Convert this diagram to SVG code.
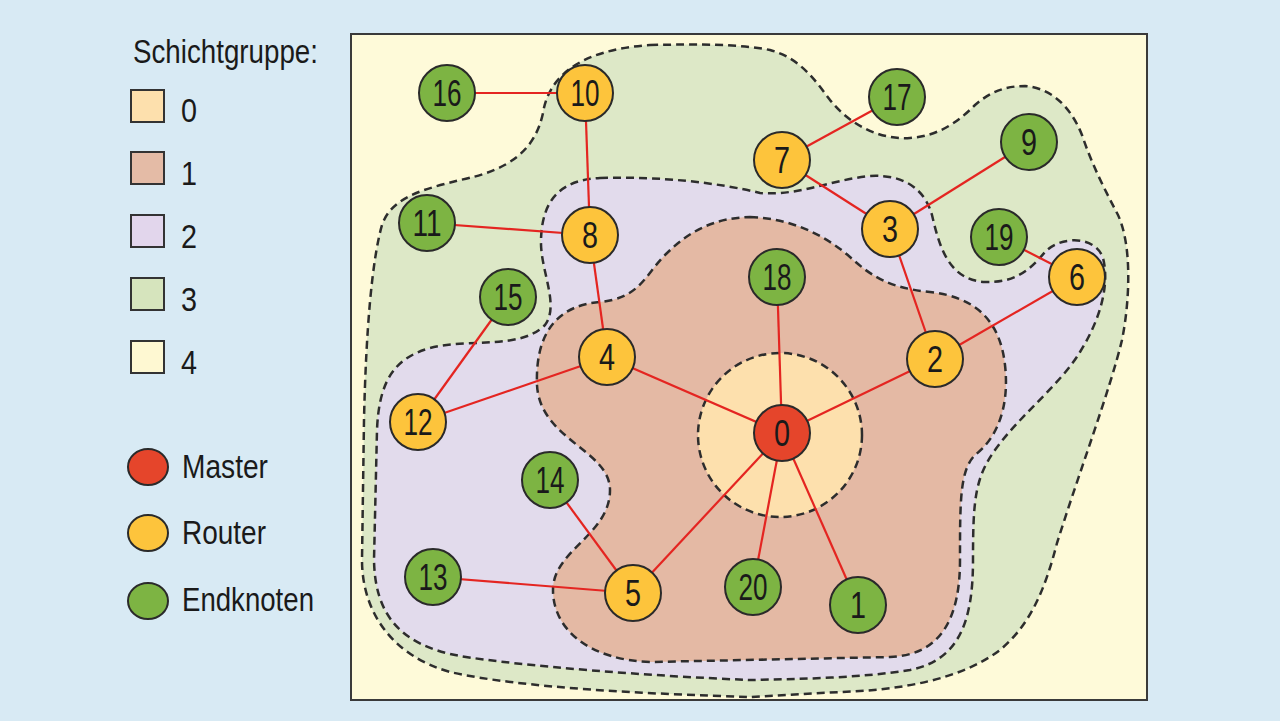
<svg xmlns="http://www.w3.org/2000/svg" width="1280" height="721" viewBox="0 0 1280 721">
<style>
.zone{stroke:#2d2d2d;stroke-width:2.5;stroke-dasharray:8 5;}
.edge{stroke:#e42521;stroke-width:2.2;fill:none;}
.n{stroke:#2a2a2a;stroke-width:2;}
.end{fill:#7db443;}
.rt{fill:#fdc43c;}
.ms{fill:#e5452b;}
.num{font-family:"Liberation Sans",Arial,sans-serif;font-size:36px;fill:#1a1a1a;text-anchor:middle;}
.lg{font-family:"Liberation Sans",Arial,sans-serif;font-size:34px;fill:#1a1a1a;}
.sq{stroke:#333;stroke-width:2;}
</style>
<rect x="0" y="0" width="1280" height="721" fill="#d8eaf4"/>
<g id="legend">
<text class="lg" x="133" y="63" textLength="185" lengthAdjust="spacingAndGlyphs">Schichtgruppe:</text>
<rect class="sq" x="131" y="90" width="33" height="32" fill="#fde0ad"/>
<text class="lg" x="181" y="122" textLength="16" lengthAdjust="spacingAndGlyphs">0</text>
<rect class="sq" x="131" y="152" width="33" height="32" fill="#e4bba6"/>
<text class="lg" x="181" y="185" textLength="16" lengthAdjust="spacingAndGlyphs">1</text>
<rect class="sq" x="131" y="215" width="33" height="32" fill="#e2d6ec"/>
<text class="lg" x="181" y="248" textLength="16" lengthAdjust="spacingAndGlyphs">2</text>
<rect class="sq" x="131" y="278" width="33" height="32" fill="#d6e4bd"/>
<text class="lg" x="181" y="311" textLength="16" lengthAdjust="spacingAndGlyphs">3</text>
<rect class="sq" x="131" y="341" width="33" height="32" fill="#fef8d2"/>
<text class="lg" x="181" y="374" textLength="16" lengthAdjust="spacingAndGlyphs">4</text>
<ellipse class="n ms" cx="148" cy="467" rx="20" ry="18"/>
<text class="lg" x="182" y="478" textLength="86" lengthAdjust="spacingAndGlyphs">Master</text>
<ellipse class="n rt" cx="148" cy="533" rx="20" ry="18"/>
<text class="lg" x="182" y="544" textLength="84" lengthAdjust="spacingAndGlyphs">Router</text>
<ellipse class="n end" cx="148" cy="601" rx="20" ry="18"/>
<text class="lg" x="182" y="611" textLength="132" lengthAdjust="spacingAndGlyphs">Endknoten</text>
</g>
<g id="zones">
<rect x="351" y="34" width="796" height="666" fill="#fefad9" stroke="#3a3a3a" stroke-width="2"/>
<path id="zone3" class="zone" fill="#dde8c7" d="M 650,45 C 700,44 740,44 770,50 C 800,58 815,80 830,100 C 850,125 880,140 910,138 C 940,136 960,120 975,105 C 990,92 1005,86 1025,86 C 1050,88 1070,105 1082,135 C 1092,165 1105,190 1118,215 C 1132,245 1130,300 1122,340 C 1110,390 1080,470 1057,543 C 1045,590 1030,625 1000,650 C 960,680 900,690 840,692 L 750,697 C 650,694 520,688 450,672 C 390,655 362,610 362,560 L 364,420 C 366,330 372,260 382,225 C 392,195 430,188 460,180 C 510,170 535,150 543,113 C 548,80 575,50 650,45 Z"/>
<path id="zone2" class="zone" fill="#e2dbec" d="M 600,178 C 660,176 720,183 760,193 C 800,196 830,180 870,176 C 905,174 925,190 932,215 C 940,250 950,280 985,282 C 1015,283 1030,270 1045,252 C 1060,236 1095,235 1103,258 C 1110,285 1100,320 1080,352 C 1060,385 1020,415 995,450 C 975,478 973,500 973,560 C 973,620 960,660 910,670 C 860,678 800,679 750,680 C 650,676 520,666 460,656 C 400,645 375,615 374,560 L 377,430 C 379,380 395,358 430,348 C 470,338 520,350 545,325 C 560,305 540,270 541,240 C 542,200 560,180 600,178 Z"/>
<path id="zone1" class="zone" fill="#e4b9a4" d="M 750,217 C 790,218 825,235 850,257 C 872,277 890,288 930,292 C 975,297 1000,320 1005,365 C 1010,410 995,440 975,455 C 960,470 960,500 960,560 C 960,620 940,655 890,657 L 650,662 C 590,660 553,630 553,590 C 553,550 610,535 610,490 C 610,450 540,440 537,385 C 535,330 560,305 600,302 C 640,298 645,275 665,255 C 690,230 715,218 750,217 Z"/>
<circle id="zone0" class="zone" fill="#fde0ad" cx="780" cy="435" r="82"/>
</g>
<g id="connectors">
<line class="edge" x1="447" y1="93" x2="585" y2="93"/>
<line class="edge" x1="585" y1="93" x2="590" y2="235"/>
<line class="edge" x1="427" y1="223" x2="590" y2="235"/>
<line class="edge" x1="590" y1="235" x2="607" y2="357"/>
<line class="edge" x1="508" y1="297" x2="418" y2="422"/>
<line class="edge" x1="418" y1="422" x2="607" y2="357"/>
<line class="edge" x1="607" y1="357" x2="782" y2="433"/>
<line class="edge" x1="777" y1="277" x2="782" y2="433"/>
<line class="edge" x1="935" y1="359" x2="782" y2="433"/>
<line class="edge" x1="890" y1="229" x2="935" y2="359"/>
<line class="edge" x1="782" y1="160" x2="890" y2="229"/>
<line class="edge" x1="782" y1="160" x2="897" y2="97"/>
<line class="edge" x1="890" y1="229" x2="1029" y2="142"/>
<line class="edge" x1="999" y1="237" x2="1077" y2="277"/>
<line class="edge" x1="1077" y1="277" x2="935" y2="359"/>
<line class="edge" x1="550" y1="480" x2="633" y2="593"/>
<line class="edge" x1="433" y1="577" x2="633" y2="593"/>
<line class="edge" x1="633" y1="593" x2="782" y2="433"/>
<line class="edge" x1="753" y1="587" x2="782" y2="433"/>
<line class="edge" x1="858" y1="605" x2="782" y2="433"/>
</g>
<g id="node0"><circle class="n ms" cx="782" cy="433" r="28"/><text class="num" x="782" y="446" textLength="16" lengthAdjust="spacingAndGlyphs">0</text></g>
<g id="node1"><circle class="n end" cx="858" cy="605" r="28"/><text class="num" x="858" y="618" textLength="16" lengthAdjust="spacingAndGlyphs">1</text></g>
<g id="node2"><circle class="n rt" cx="935" cy="359" r="28"/><text class="num" x="935" y="372" textLength="16" lengthAdjust="spacingAndGlyphs">2</text></g>
<g id="node3"><circle class="n rt" cx="890" cy="229" r="28"/><text class="num" x="890" y="242" textLength="16" lengthAdjust="spacingAndGlyphs">3</text></g>
<g id="node4"><circle class="n rt" cx="607" cy="357" r="28"/><text class="num" x="607" y="370" textLength="16" lengthAdjust="spacingAndGlyphs">4</text></g>
<g id="node5"><circle class="n rt" cx="633" cy="593" r="28"/><text class="num" x="633" y="606" textLength="16" lengthAdjust="spacingAndGlyphs">5</text></g>
<g id="node6"><circle class="n rt" cx="1077" cy="277" r="28"/><text class="num" x="1077" y="290" textLength="16" lengthAdjust="spacingAndGlyphs">6</text></g>
<g id="node7"><circle class="n rt" cx="782" cy="160" r="28"/><text class="num" x="782" y="173" textLength="16" lengthAdjust="spacingAndGlyphs">7</text></g>
<g id="node8"><circle class="n rt" cx="590" cy="235" r="28"/><text class="num" x="590" y="248" textLength="16" lengthAdjust="spacingAndGlyphs">8</text></g>
<g id="node9"><circle class="n end" cx="1029" cy="142" r="28"/><text class="num" x="1029" y="155" textLength="16" lengthAdjust="spacingAndGlyphs">9</text></g>
<g id="node10"><circle class="n rt" cx="585" cy="93" r="28"/><text class="num" x="585" y="106" textLength="29" lengthAdjust="spacingAndGlyphs">10</text></g>
<g id="node11"><circle class="n end" cx="427" cy="223" r="28"/><text class="num" x="427" y="236" textLength="29" lengthAdjust="spacingAndGlyphs">11</text></g>
<g id="node12"><circle class="n rt" cx="418" cy="422" r="28"/><text class="num" x="418" y="435" textLength="29" lengthAdjust="spacingAndGlyphs">12</text></g>
<g id="node13"><circle class="n end" cx="433" cy="577" r="28"/><text class="num" x="433" y="590" textLength="29" lengthAdjust="spacingAndGlyphs">13</text></g>
<g id="node14"><circle class="n end" cx="550" cy="480" r="28"/><text class="num" x="550" y="493" textLength="29" lengthAdjust="spacingAndGlyphs">14</text></g>
<g id="node15"><circle class="n end" cx="508" cy="297" r="28"/><text class="num" x="508" y="310" textLength="29" lengthAdjust="spacingAndGlyphs">15</text></g>
<g id="node16"><circle class="n end" cx="447" cy="93" r="28"/><text class="num" x="447" y="106" textLength="29" lengthAdjust="spacingAndGlyphs">16</text></g>
<g id="node17"><circle class="n end" cx="897" cy="97" r="28"/><text class="num" x="897" y="110" textLength="29" lengthAdjust="spacingAndGlyphs">17</text></g>
<g id="node18"><circle class="n end" cx="777" cy="277" r="28"/><text class="num" x="777" y="290" textLength="29" lengthAdjust="spacingAndGlyphs">18</text></g>
<g id="node19"><circle class="n end" cx="999" cy="237" r="28"/><text class="num" x="999" y="250" textLength="29" lengthAdjust="spacingAndGlyphs">19</text></g>
<g id="node20"><circle class="n end" cx="753" cy="587" r="28"/><text class="num" x="753" y="600" textLength="29" lengthAdjust="spacingAndGlyphs">20</text></g>
</svg>
